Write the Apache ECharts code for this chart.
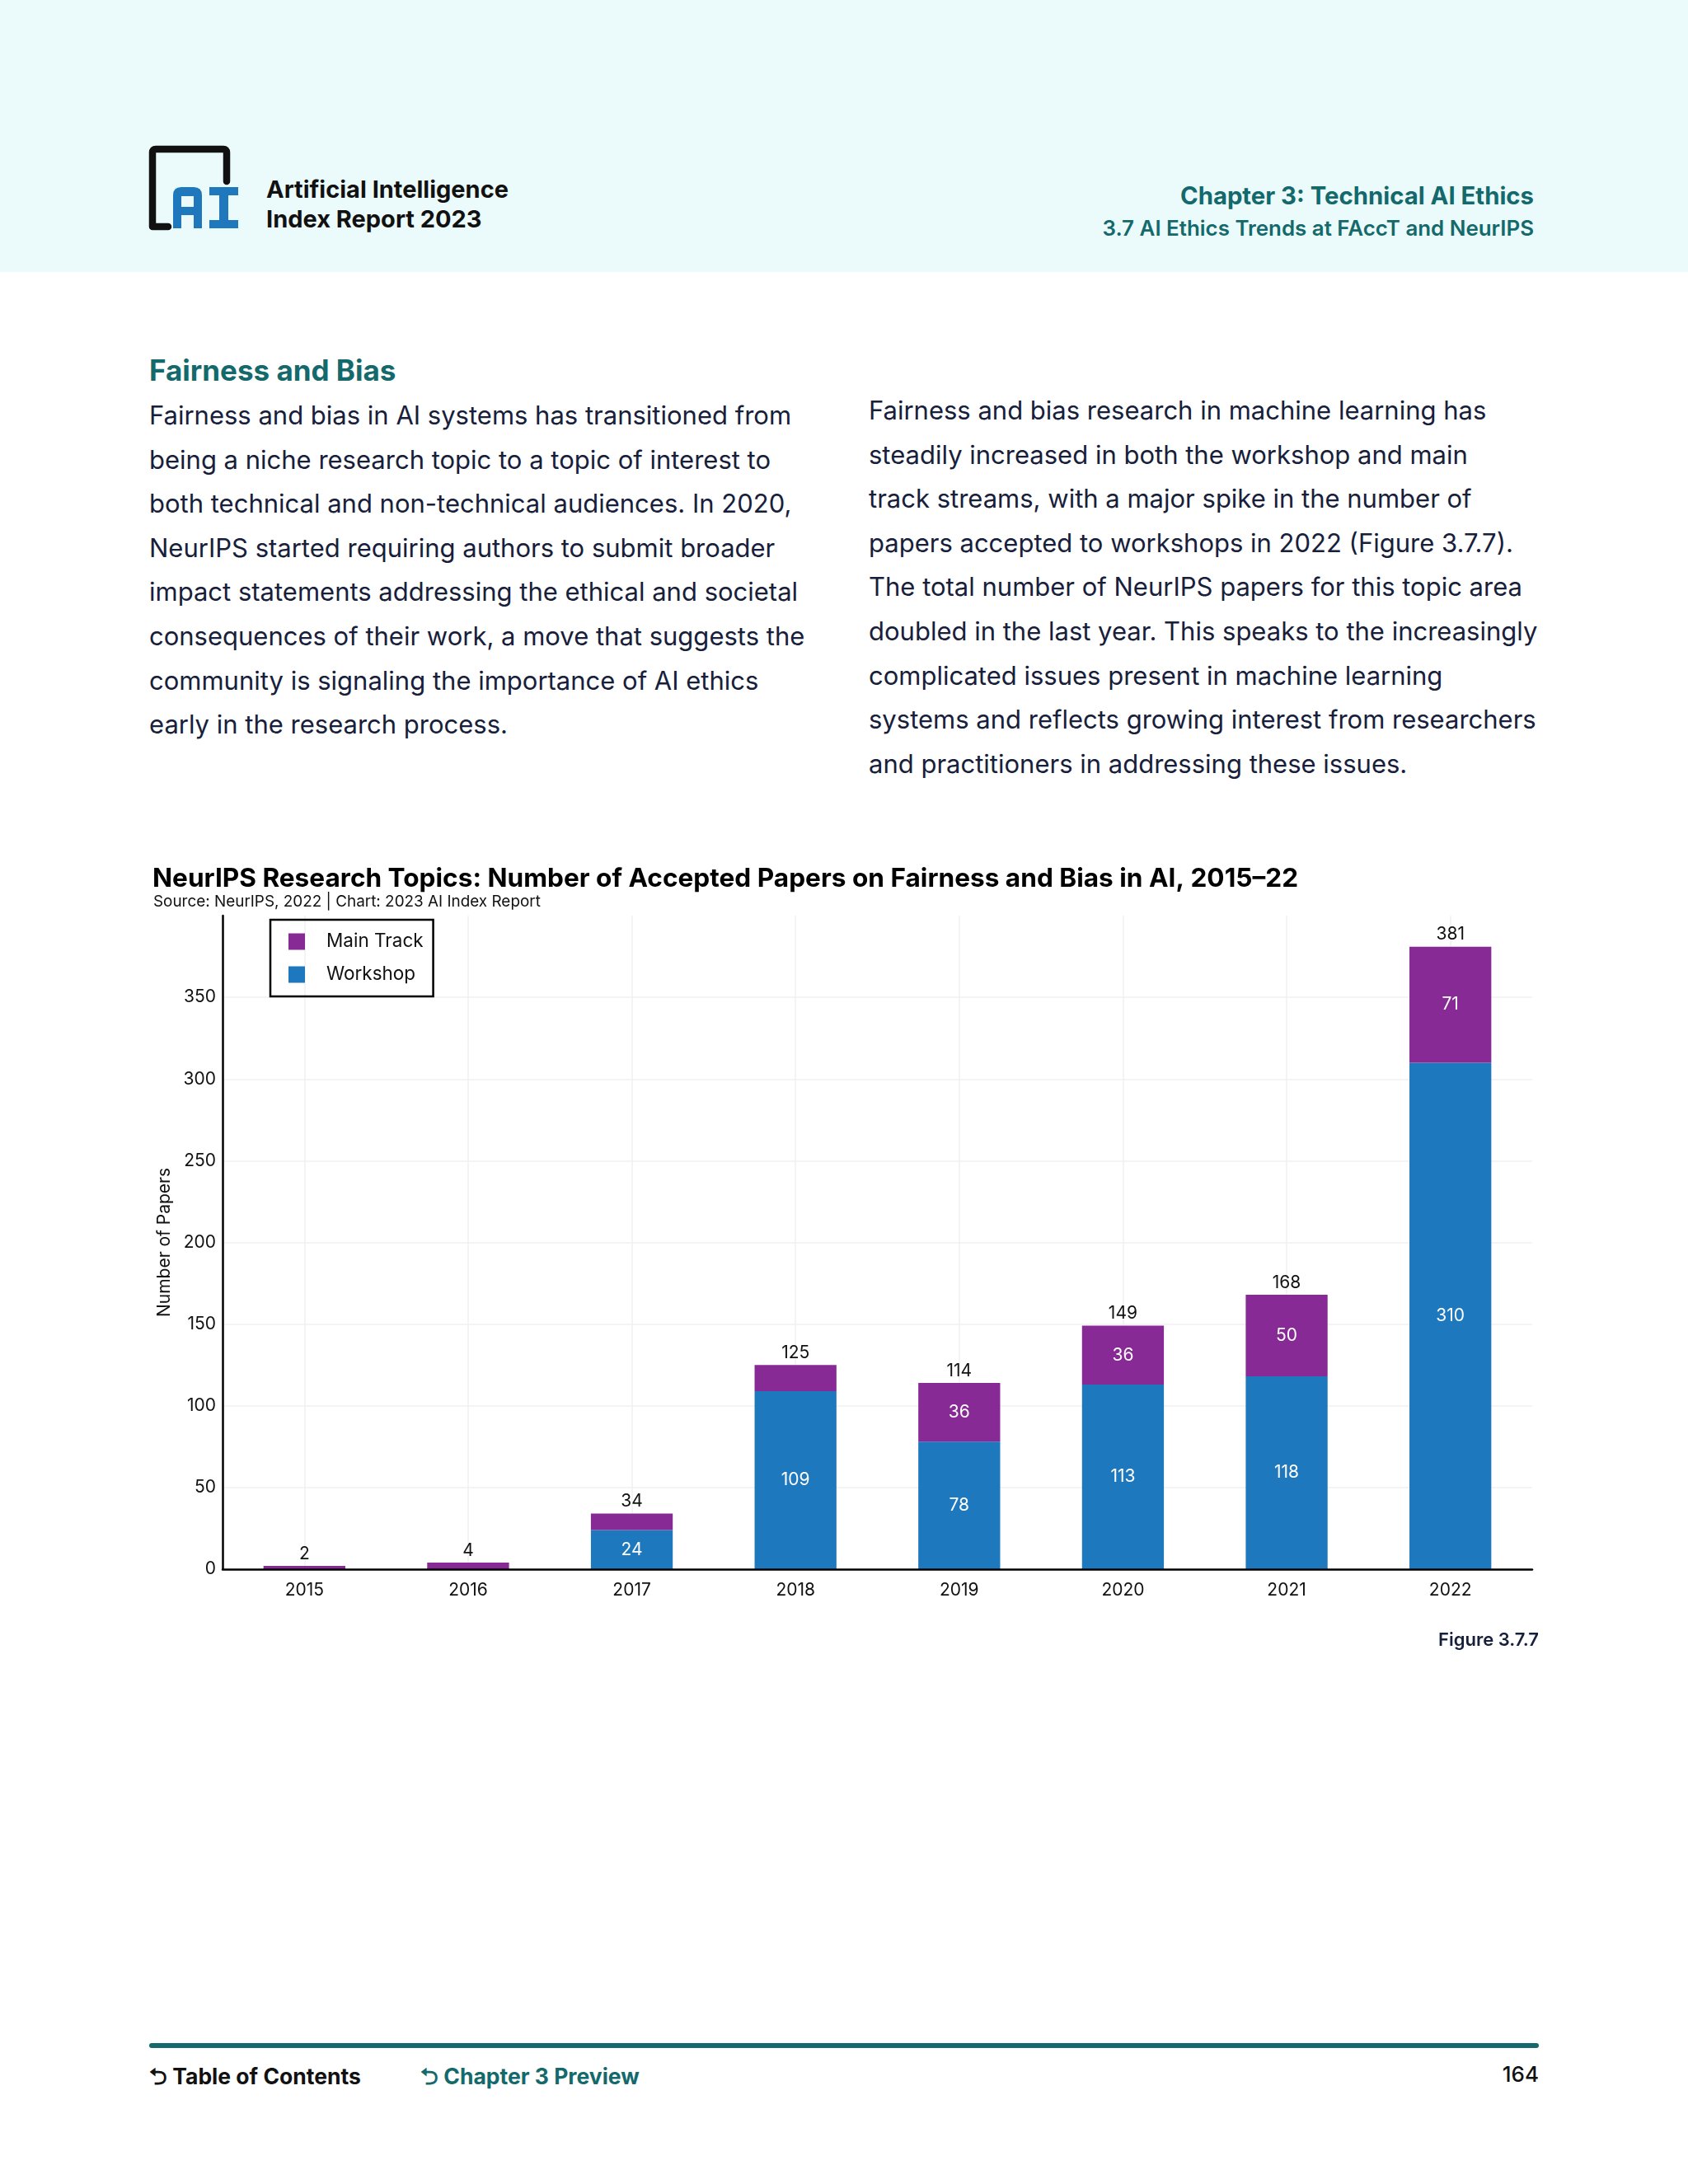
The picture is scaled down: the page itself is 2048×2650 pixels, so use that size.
<!DOCTYPE html>
<html>
<head>
<meta charset="utf-8">
<script src="https://cdn.jsdelivr.net/npm/echarts@6/dist/echarts.min.js"></script>
<style>
  html, body { margin:0; padding:0; background:#fff; }
  body { width:2048px; height:2650px; position:relative; font-family: Inter, "Noto Sans", sans-serif; overflow:hidden; }
  .hdr { position:absolute; left:0; top:0; width:2048px; height:330px; background:#ebfbfb; }
  .abs { position:absolute; white-space:nowrap; }
  .body-line { position:absolute; white-space:nowrap; font-size:31px; color:#17203a; line-height:54px; }
  .teal { color:#13696b; }
</style>
</head>
<body>
<div class="hdr"></div>
<svg class="abs" style="left:176px;top:176px;" width="120" height="110" viewBox="0 0 120 110">
  <path d="M28 99 L9 99 L9 9 Q9 5 13 5 L95 5 Q99 5 99 9 L99 44" fill="none" stroke="#111" stroke-width="8.5" stroke-linejoin="round" stroke-linecap="round"/>
  <path d="M34 101 L34 61 Q34 51 44 51 L59 51 Q69 51 69 61 L69 101 L59 101 L59 85 L44 85 L44 101 Z M44 62 L44 75 L59 75 L59 62 Z" fill="#1f78bc" fill-rule="evenodd"/>
  <path d="M78 51 L113 51 L113 61 L101 61 L101 91 L113 91 L113 101 L78 101 L78 91 L90 91 L90 61 L78 61 Z" fill="#1f78bc"/>
</svg>
<div class="abs" style="left:323px;top:212px;font-size:29px;font-weight:700;color:#111;line-height:36px;">Artificial Intelligence<br>Index Report 2023</div>
<div class="abs teal" style="right:187px;top:220px;font-size:29.3px;font-weight:700;text-align:right;">Chapter 3: Technical AI Ethics</div>
<div class="abs teal" style="right:187px;top:261px;font-size:25.9px;font-weight:600;text-align:right;">3.7 AI Ethics Trends at FAccT and NeurIPS</div>

<div class="abs teal" style="left:181px;top:428px;font-size:35px;font-weight:700;">Fairness and Bias</div>

<div id="left-col" class="abs" style="left:181px;top:477px;"></div>
<div id="right-col" class="abs" style="left:1054px;top:471px;"></div>

<div id="chart" class="abs" style="left:0;top:1030px;width:2048px;height:960px;"></div>

<div class="abs" style="right:181px;top:1976px;font-size:22px;font-weight:600;color:#17203a;">Figure 3.7.7</div>

<div class="abs" style="left:181px;top:2479px;width:1686px;height:6px;background:#156a6e;border-radius:3px;"></div>
<div class="abs" style="left:181px;top:2501px;font-size:26.5px;font-weight:700;color:#111;">&#x2B8C; Table of Contents</div>
<div class="abs teal" style="left:510px;top:2501px;font-size:26.5px;font-weight:700;">&#x2B8C; Chapter 3 Preview</div>
<div class="abs" style="right:181px;top:2501px;font-size:26px;font-weight:500;color:#111;">164</div>

<script>
const leftLines = [
  "Fairness and bias in AI systems has transitioned from",
  "being a niche research topic to a topic of interest to",
  "both technical and non-technical audiences. In 2020,",
  "NeurIPS started requiring authors to submit broader",
  "impact statements addressing the ethical and societal",
  "consequences of their work, a move that suggests the",
  "community is signaling the importance of AI ethics",
  "early in the research process."
];
const rightLines = [
  "Fairness and bias research in machine learning has",
  "steadily increased in both the workshop and main",
  "track streams, with a major spike in the number of",
  "papers accepted to workshops in 2022 (Figure 3.7.7).",
  "The total number of NeurIPS papers for this topic area",
  "doubled in the last year. This speaks to the increasingly",
  "complicated issues present in machine learning",
  "systems and reflects growing interest from researchers",
  "and practitioners in addressing these issues."
];
function fillCol(id, lines) {
  const el = document.getElementById(id);
  lines.forEach((t, i) => {
    const d = document.createElement('div');
    d.className = 'body-line';
    d.style.top = (i * 53.6) + 'px';
    d.style.left = '0px';
    d.textContent = t;
    el.appendChild(d);
  });
}
fillCol('left-col', leftLines);
fillCol('right-col', rightLines);

// ---- chart data ----
const years = ["2015", "2016", "2017", "2018", "2019", "2020", "2021", "2022"];
const workshop = [0, 0, 24, 109, 78, 113, 118, 310];
const mainTrack = [2, 4, 10, 16, 36, 36, 50, 71];
const totals = [2, 4, 34, 125, 114, 149, 168, 381];
const yTicks = { min: 0, max: 400, interval: 50 };

const purple = '#882a95';
const blue = '#1e78bd';
const halfSteps = Array.from({ length: years.length * 2 + 1 }, (_, i) => String(i));

const chart = echarts.init(document.getElementById('chart'));
chart.setOption({
  animation: false,
  textStyle: { fontFamily: 'Inter, "Noto Sans", sans-serif' },
  title: [
    { text: 'NeurIPS Research Topics: Number of Accepted Papers on Fairness and Bias in AI, 2015–22',
      left: 180, top: 15,
      textStyle: { fontSize: 31.6, fontWeight: 700, color: '#000' } },
    { text: 'Source: NeurIPS, 2022 | Chart: 2023 AI Index Report',
      left: 181, top: 50,
      textStyle: { fontSize: 18.9, fontWeight: 400, color: '#111' } }
  ],
  legend: {
    data: ['Main Track', 'Workshop'],
    orient: 'vertical',
    left: 328, top: 86,
    borderColor: '#000', borderWidth: 2.5,
    padding: [15, 12, 15, 22],
    itemWidth: 20, itemHeight: 20, itemGap: 17,
    icon: 'rect',
    textStyle: { fontSize: 22.5, color: '#111', padding: [0, 0, 0, 21] }
  },
  grid: { left: 270, right: 189, top: 81, bottom: 86 },
  xAxis: [
    { type: 'category', data: years, boundaryGap: true,
      axisLine: { lineStyle: { color: '#000', width: 2.5 } },
      axisTick: { show: false },
      axisLabel: { fontSize: 21, color: '#111', margin: 15 },
      splitLine: { show: false }, z: 5 },
    { type: 'category', data: halfSteps, boundaryGap: false, position: 'bottom',
      axisLine: { show: false }, axisTick: { show: false }, axisLabel: { show: false },
      splitLine: { show: true, interval: (i) => i % 2 === 1, lineStyle: { color: '#f1f1f1', width: 1.5 } } }
  ],
  yAxis: {
    type: 'value', min: yTicks.min, max: yTicks.max, interval: yTicks.interval,
    name: 'Number of Papers', nameLocation: 'middle', nameGap: 60,
    nameTextStyle: { fontSize: 21, color: '#111' },
    axisLine: { show: true, lineStyle: { color: '#000', width: 2.5 } },
    axisTick: { show: false },
    axisLabel: { fontSize: 21, color: '#111', margin: 8, showMaxLabel: false },
    splitLine: { show: true, showMaxLine: false, lineStyle: { color: '#f1f1f1', width: 1.5 } }
  },
  series: [
    { name: 'Workshop', type: 'bar', stack: 'papers', data: workshop, barWidth: '50%',
      itemStyle: { color: blue },
      label: { show: true, position: 'inside', color: '#fff', fontSize: 21,
               formatter: p => p.value > 0 ? p.value : '' } },
    { name: 'Main Track', type: 'bar', stack: 'papers', data: mainTrack, barWidth: '50%',
      itemStyle: { color: purple },
      label: { show: true, position: 'inside', color: '#fff', fontSize: 21,
               formatter: p => p.value >= 20 ? p.value : '' } },
    { name: 'Total', type: 'bar', stack: 'papers', data: years.map(() => 0), barWidth: '50%',
      itemStyle: { color: 'transparent' },
      label: { show: true, position: 'top', distance: 4, color: '#111', fontSize: 21,
               formatter: p => totals[p.dataIndex] } }
  ]
});
</script>
</body>
</html>
